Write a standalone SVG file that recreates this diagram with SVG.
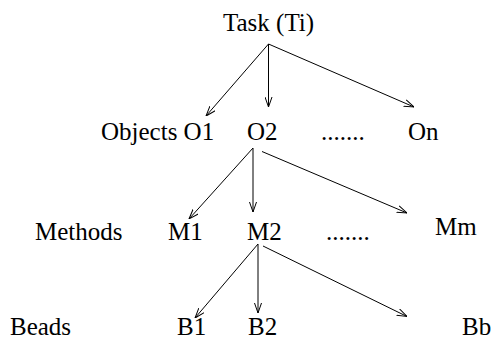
<svg xmlns="http://www.w3.org/2000/svg" width="493" height="341" viewBox="0 0 493 341">
<defs>
<style>
text{font-family:"Liberation Serif","Times New Roman",serif;font-size:25px;fill:#000}
.c line{stroke:#000;stroke-width:1;marker-end:url(#ah)}
</style>
<marker id="ah" viewBox="0 0 10 8" refX="10" refY="4" markerWidth="10" markerHeight="8" markerUnits="userSpaceOnUse" orient="auto">
<path d="M0,0.5 L10,4 L0,7.5" fill="none" stroke="#000" stroke-width="1"/>
</marker>
</defs>
<rect width="493" height="341" fill="#fff"/>
<g id="task"><text x="223" y="31">Task (Ti)</text></g>
<g id="objects"><text x="101" y="140">Objects O1</text></g>
<g id="o2"><text x="247" y="140">O2</text></g>
<g id="odots"><text x="321" y="140">.......</text></g>
<g id="on"><text x="408" y="140">On</text></g>
<g id="methods"><text x="35" y="240">Methods</text></g>
<g id="m1"><text x="168" y="240">M1</text></g>
<g id="m2"><text x="247" y="240">M2</text></g>
<g id="mdots"><text x="326" y="240">.......</text></g>
<g id="mm"><text x="435" y="235">Mm</text></g>
<g id="beads"><text x="10" y="335">Beads</text></g>
<g id="b1"><text x="177" y="335">B1</text></g>
<g id="b2"><text x="248" y="335">B2</text></g>
<g id="bb"><text x="462" y="335">Bb</text></g>
<g class="c" id="connectors">
<line x1="268.5" y1="44" x2="206" y2="116"/>
<line x1="268.5" y1="44" x2="268.5" y2="107"/>
<line x1="268.5" y1="44" x2="414" y2="107"/>
<line x1="253" y1="148" x2="189" y2="219"/>
<line x1="253" y1="148" x2="253" y2="212"/>
<line x1="262" y1="151.5" x2="407" y2="213"/>
<line x1="258" y1="244" x2="195" y2="318"/>
<line x1="258" y1="244" x2="258" y2="313"/>
<line x1="263" y1="246" x2="407" y2="316.5"/>
</g>
</svg>
